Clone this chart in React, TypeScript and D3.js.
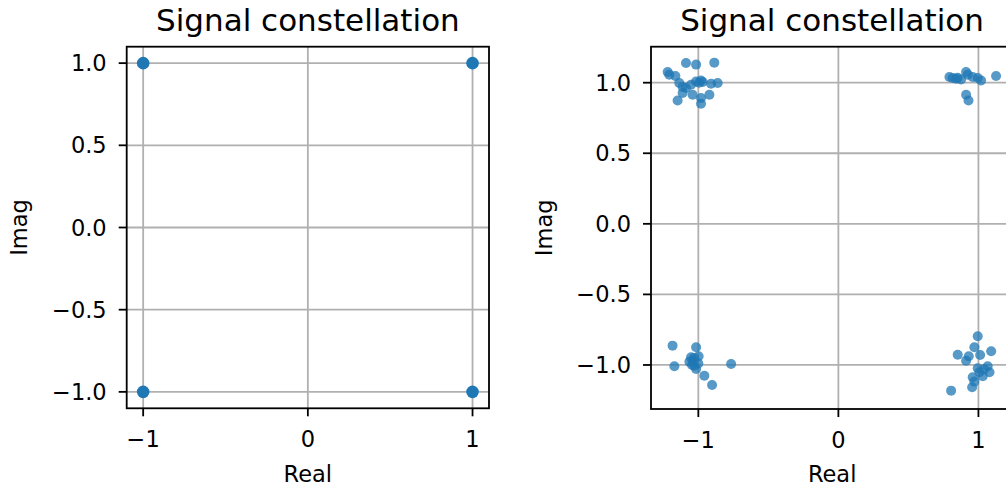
import React, { useEffect, useRef } from 'react';
import * as d3 from 'd3';

// ideal QPSK symbols
const idealReal = [-1, -1, 1, 1];
const idealImag = [1, -1, 1, -1];

const clusterTopLeft: [number, number][] = [
  [-1.088, 1.14], [-1.016, 1.128], [-0.886, 1.142], [-1.219, 1.076], [-1.207, 1.057],
  [-1.164, 1.048], [-1.136, 0.998], [-1.112, 0.97], [-1.088, 0.962], [-1.016, 1.009],
  [-0.981, 1.016], [-0.969, 1.005], [-0.909, 0.993], [-0.862, 0.998], [-1.112, 0.927],
  [-1.148, 0.874], [-1.041, 0.915], [-0.981, 0.891], [-0.921, 0.915], [-0.981, 0.851],
  [-1.052, 0.986], [-0.995, 1.0],
];
const clusterTopRight: [number, number][] = [
  [0.793, 1.04], [0.816, 1.033], [0.841, 1.028], [0.876, 1.023], [0.912, 1.076],
  [0.924, 1.057], [0.959, 1.04], [0.995, 1.033], [1.019, 1.016], [1.126, 1.048],
  [0.912, 0.915], [0.929, 0.874], [0.852, 1.035],
];
const clusterBottomLeft: [number, number][] = [
  [-1.184, -0.863], [-1.016, -0.874], [-1.171, -1.009], [-1.052, -0.945], [-1.041, -0.97],
  [-1.029, -1.005], [-1.016, -1.028], [-0.998, -0.938], [-1.064, -0.977], [-0.957, -1.076],
  [-0.902, -1.142], [-0.766, -0.993], [-1.03, -0.95], [-1.0, -0.99], [-1.045, -1.0],
];
const clusterBottomRight: [number, number][] = [
  [0.995, -0.796], [0.971, -0.874], [0.852, -0.927], [0.931, -0.938], [0.912, -0.97],
  [1.012, -0.929], [1.091, -0.903], [0.995, -1.023], [1.066, -1.009], [1.079, -1.052],
  [1.031, -1.08], [0.959, -1.087], [0.971, -1.118], [0.955, -1.158], [0.805, -1.182],
  [1.007, -1.052], [1.04, -1.03],
];

const yTicks = [-1, -0.5, 0, 0.5, 1];
const xTicks = [-1, 0, 1];

const WIDTH = 1006;
const HEIGHT = 489;
const FONT = 'DejaVu Sans, sans-serif';
const BLUE = '#1f77b4';

const fmtY = (d: number) => d.toFixed(1).replace('-', '\u2212');
const fmtX = (d: number) => String(d).replace('-', '\u2212');

const App = () => {
  const svgRef = useRef<SVGSVGElement>(null);

  useEffect(() => {
    const svg = d3.select(svgRef.current);
    svg.selectAll('*').remove();

    const drawPanel = (
      id: string,
      box: { left: number; right: number; top: number; bottom: number },
      xDomain: [number, number],
      yDomain: [number, number],
      labelX: number,
      yLabelX: number,
    ) => {
      const x = d3.scaleLinear().domain(xDomain).range([box.left, box.right]);
      const y = d3.scaleLinear().domain(yDomain).range([box.bottom, box.top]);
      const g = svg.append('g');

      g.append('clipPath').attr('id', id)
        .append('rect')
        .attr('x', box.left).attr('y', box.top)
        .attr('width', box.right - box.left).attr('height', box.bottom - box.top);

      // grid
      g.selectAll('.gx').data(xTicks).join('line')
        .attr('x1', d => x(d)).attr('x2', d => x(d))
        .attr('y1', box.top).attr('y2', box.bottom)
        .attr('stroke', '#b0b0b0').attr('stroke-width', 1.8);
      g.selectAll('.gy').data(yTicks).join('line')
        .attr('y1', d => y(d)).attr('y2', d => y(d))
        .attr('x1', box.left).attr('x2', box.right)
        .attr('stroke', '#b0b0b0').attr('stroke-width', 1.8);

      // ticks
      g.selectAll('.tx').data(xTicks).join('line')
        .attr('x1', d => x(d)).attr('x2', d => x(d))
        .attr('y1', box.bottom).attr('y2', box.bottom + 8)
        .attr('stroke', '#000').attr('stroke-width', 1.8);
      g.selectAll('.ty').data(yTicks).join('line')
        .attr('y1', d => y(d)).attr('y2', d => y(d))
        .attr('x1', box.left - 8).attr('x2', box.left)
        .attr('stroke', '#000').attr('stroke-width', 1.8);

      g.selectAll('.lx').data(xTicks).join('text')
        .attr('x', d => x(d)).attr('y', box.bottom + 38.5)
        .attr('text-anchor', 'middle')
        .style('font-family', FONT).style('font-size', '22.5px')
        .text(fmtX);
      g.selectAll('.ly').data(yTicks).join('text')
        .attr('x', box.left - 20).attr('y', d => y(d) + 8)
        .attr('text-anchor', 'end')
        .style('font-family', FONT).style('font-size', '22.5px')
        .text(fmtY);

      // axis labels and title
      g.append('text')
        .attr('x', (box.left + box.right) / 2).attr('y', 482)
        .attr('text-anchor', 'middle')
        .style('font-family', FONT).style('font-size', '22.5px')
        .text('Real');
      g.append('text')
        .attr('transform', `translate(${yLabelX},${(box.top + box.bottom) / 2}) rotate(-90)`)
        .attr('text-anchor', 'middle')
        .style('font-family', FONT).style('font-size', '22.5px')
        .text('Imag');
      g.append('text')
        .attr('x', labelX).attr('y', 31)
        .attr('text-anchor', 'middle')
        .style('font-family', FONT).style('font-size', '31px')
        .text('Signal constellation');

      return { g, x, y };
    };

    // left panel: ideal symbols
    const left = drawPanel('clipL', { left: 126.7, right: 489, top: 46.7, bottom: 408.3 },
      [-1.1, 1.1], [-1.1, 1.1], 307.9, 27);
    left.g.append('g').attr('clip-path', 'url(#clipL)')
      .selectAll('circle').data(idealReal).join('circle')
      .attr('cx', d => left.x(d))
      .attr('cy', (d, i) => left.y(idealImag[i]))
      .attr('r', 6.3)
      .attr('fill', BLUE);
    left.g.append('rect')
      .attr('x', 126.7).attr('y', 46.7).attr('width', 489 - 126.7).attr('height', 408.3 - 46.7)
      .attr('fill', 'none').attr('stroke', '#000').attr('stroke-width', 1.8);

    // right panel: noisy symbols
    const noisy = [...clusterTopLeft, ...clusterTopRight, ...clusterBottomLeft, ...clusterBottomRight];
    const right = drawPanel('clipR', { left: 651, right: 1013.3, top: 46.7, bottom: 409 },
      [-1.338, 1.249], [-1.312, 1.255], 832, 552);
    right.g.append('g').attr('clip-path', 'url(#clipR)')
      .selectAll('circle').data(noisy).join('circle')
      .attr('cx', d => right.x(d[0]))
      .attr('cy', d => right.y(d[1]))
      .attr('r', 5)
      .attr('fill', BLUE)
      .attr('fill-opacity', 0.75);
    right.g.append('rect')
      .attr('x', 651).attr('y', 46.7).attr('width', 1013.3 - 651).attr('height', 409 - 46.7)
      .attr('fill', 'none').attr('stroke', '#000').attr('stroke-width', 1.8);
  }, []);

  return (
    <svg
      ref={svgRef}
      width={WIDTH}
      height={HEIGHT}
      style={{ position: 'absolute', left: 0, top: 0, background: '#fff' }}
    />
  );
};

export default App;
